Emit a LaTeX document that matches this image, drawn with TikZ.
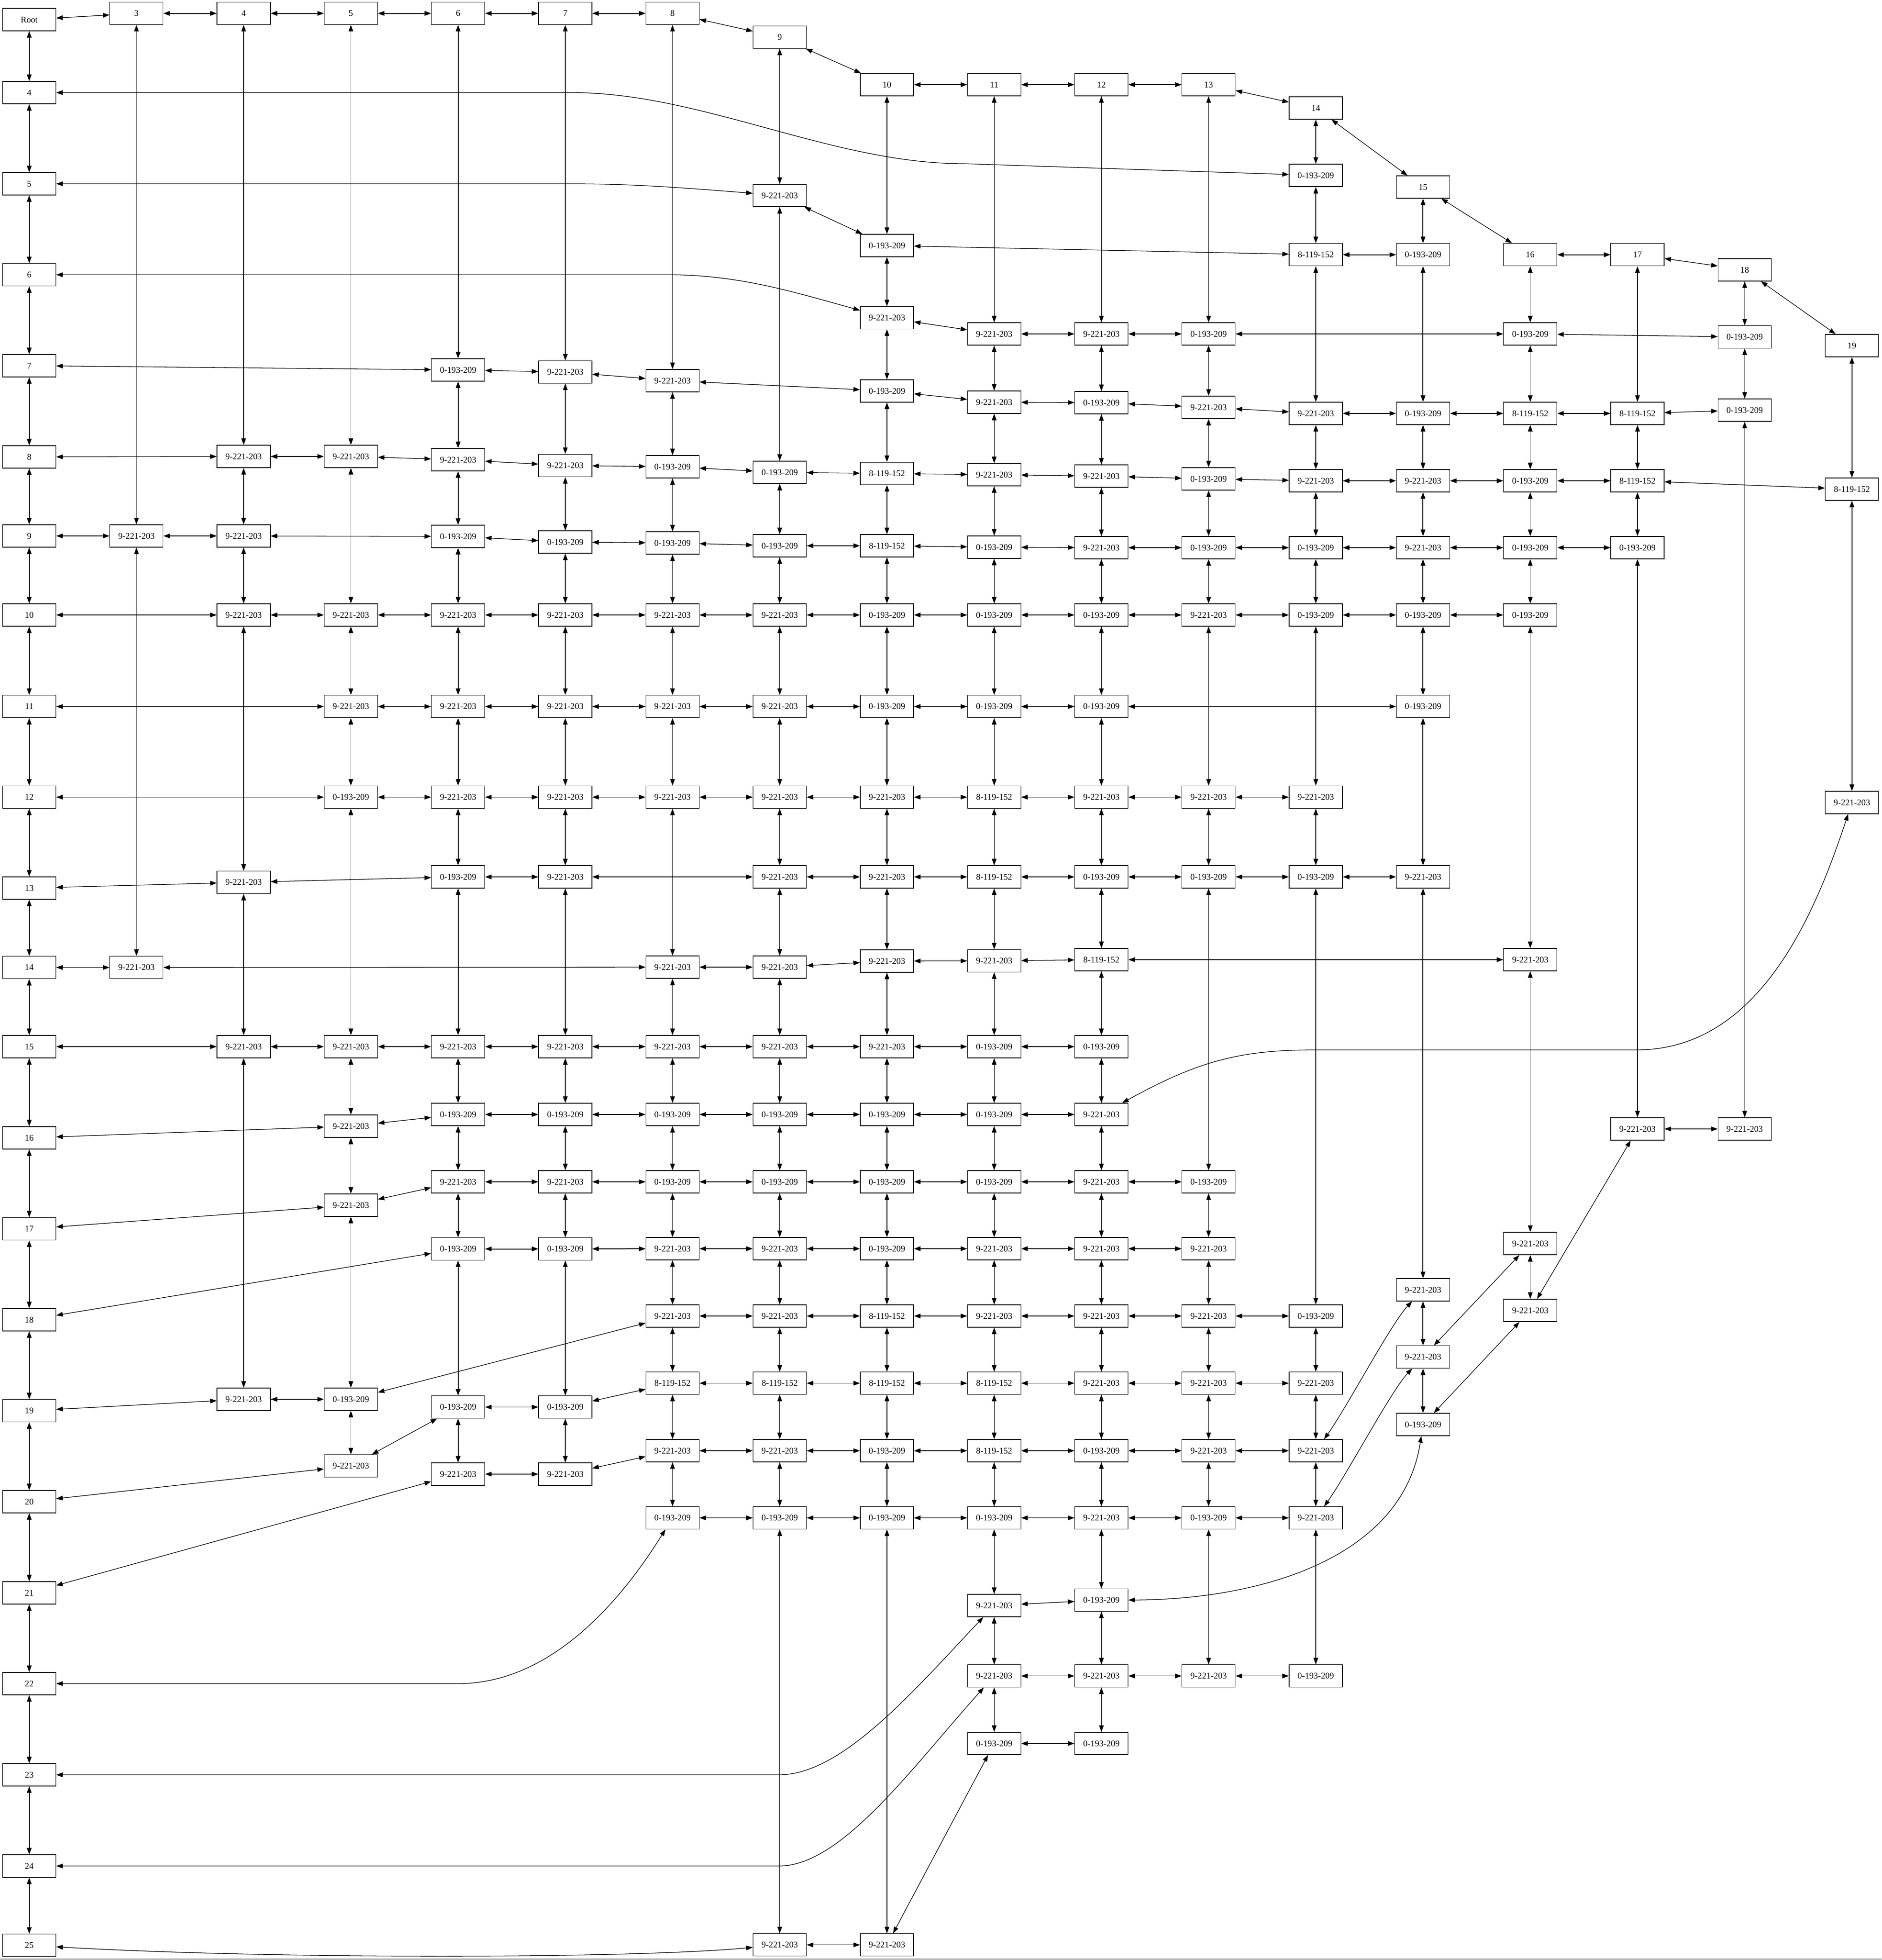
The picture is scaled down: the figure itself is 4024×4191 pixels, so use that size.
\documentclass[tikz,border=0pt]{standalone}
\usepackage{fontspec}
\setmainfont{Liberation Serif}
\usetikzlibrary{arrows.meta}

\begin{document}
\begin{tikzpicture}[x=1pt, y=-1pt,
        cell/.style={draw, line width=1.3pt, minimum width=114pt, minimum height=48pt, inner sep=0pt, font=\fontsize{18.7}{22}\selectfont},
        link/.style={{Triangle[length=14pt,width=10pt]}-{Triangle[length=14pt,width=10pt]}, line width=1.3pt},
        heavy/.style={link, line width=2pt}]
        \useasboundingbox (0,0) rectangle (4024,4191);
        \draw[gray, line width=1.5pt] (0,4189) -- (4024,4189);

        \node[cell] (root) at (62.5,42)     {Root};
        \node[cell] (L4)   at (62.5,198)    {4};
        \node[cell] (L5)   at (62.5,393)    {5};
        \node[cell] (L6)   at (62.5,587.5)  {6};
        \node[cell] (L7)   at (62.5,782)    {7};
        \node[cell] (L8)   at (62.5,977)    {8};
        \node[cell] (L9)   at (62.5,1146)   {9};
        \node[cell] (L10)  at (62.5,1315)   {10};
        \node[cell] (L11)  at (62.5,1510.7) {11};
        \node[cell] (L12)  at (62.5,1704.5) {12};
        \node[cell] (L13)  at (62.5,1899)   {13};
        \node[cell] (L14)  at (62.5,2068.7) {14};
        \node[cell] (L15)  at (62.5,2238)   {15};
        \node[cell] (L16)  at (62.5,2433)   {16};
        \node[cell] (L17)  at (62.5,2627.7) {17};
        \node[cell] (L18)  at (62.5,2822)   {18};
        \node[cell] (L19)  at (62.5,3016.6) {19};
        \node[cell] (L20)  at (62.5,3211)   {20};
        \node[cell] (L21)  at (62.5,3406)   {21};
        \node[cell] (L22)  at (62.5,3600)   {22};
        \node[cell] (L23)  at (62.5,3795)   {23};
        \node[cell] (L24)  at (62.5,3990)   {24};
        \node[cell] (L25)  at (62.5,4159.6) {25};

        \node[cell] (T3)  at (291.8,28.6)  {3};
        \node[cell] (T4)  at (521.1,28.6)  {4};
        \node[cell] (T5)  at (750.4,28.6)  {5};
        \node[cell] (T6)  at (979.7,28.6)  {6};
        \node[cell] (T7)  at (1209,28.6)   {7};
        \node[cell] (T8)  at (1438.3,28.6) {8};
        \node[cell] (T9)  at (1667.6,79.5) {9};
        \node[cell] (T10) at (1896.9,181)  {10};
        \node[cell] (T11) at (2126.2,181)  {11};
        \node[cell] (T12) at (2355.5,181)  {12};
        \node[cell] (T13) at (2584.8,181)  {13};
        \node[cell] (T14) at (2814.1,231)  {14};
        \node[cell] (T15) at (3043.4,400)  {15};
        \node[cell] (T16) at (3272.7,544.6) {16};
        \node[cell] (T17) at (3502,544.6)  {17};
        \node[cell] (T18) at (3731.3,577)  {18};
        \node[cell] (T19) at (3960.6,739)  {19};

        % column 1
        \node[cell] (n1y1146) at (291.8,1146)   {9-221-203};
        \node[cell] (n1y2069) at (291.8,2068.7) {9-221-203};
        % column 2
        \node[cell] (n2y976)  at (521.1,976)    {9-221-203};
        \node[cell] (n2y1146) at (521.1,1146)   {9-221-203};
        \node[cell] (n2y1315) at (521.1,1315)   {9-221-203};
        \node[cell] (n2y1887) at (521.1,1886.6) {9-221-203};
        \node[cell] (n2y2238) at (521.1,2238)   {9-221-203};
        \node[cell] (n2y2992) at (521.1,2992)   {9-221-203};
        % column 3
        \node[cell] (n3y976)  at (750.4,976)    {9-221-203};
        \node[cell] (n3y1315) at (750.4,1315)   {9-221-203};
        \node[cell] (n3y1511) at (750.4,1510.7) {9-221-203};
        \node[cell] (n3y1705) at (750.4,1704.5) {0-193-209};
        \node[cell] (n3y2238) at (750.4,2238)   {9-221-203};
        \node[cell] (n3y2408) at (750.4,2408)   {9-221-203};
        \node[cell] (n3y2577) at (750.4,2577)   {9-221-203};
        \node[cell] (n3y2992) at (750.4,2992)   {0-193-209};
        \node[cell] (n3y3135) at (750.4,3134.5) {9-221-203};
        % column 4
        \node[cell] (n4y791)  at (979.7,791)    {0-193-209};
        \node[cell] (n4y983)  at (979.7,983)    {9-221-203};
        \node[cell] (n4y1147) at (979.7,1147)   {0-193-209};
        \node[cell] (n4y1315) at (979.7,1315)   {9-221-203};
        \node[cell] (n4y1511) at (979.7,1510.7) {9-221-203};
        \node[cell] (n4y1705) at (979.7,1704.5) {9-221-203};
        \node[cell] (n4y1875) at (979.7,1875)   {0-193-209};
        \node[cell] (n4y2238) at (979.7,2238)   {9-221-203};
        \node[cell] (n4y2383) at (979.7,2383)   {0-193-209};
        \node[cell] (n4y2527) at (979.7,2527)   {9-221-203};
        \node[cell] (n4y2671) at (979.7,2670.5) {0-193-209};
        \node[cell] (n4y3009) at (979.7,3008.7) {0-193-209};
        \node[cell] (n4y3152) at (979.7,3152)   {9-221-203};
        % column 5
        \node[cell] (n5y796)  at (1209,795.5)  {9-221-203};
        \node[cell] (n5y996)  at (1209,995.5)  {9-221-203};
        \node[cell] (n5y1159) at (1209,1159)   {0-193-209};
        \node[cell] (n5y1315) at (1209,1315)   {9-221-203};
        \node[cell] (n5y1511) at (1209,1510.7) {9-221-203};
        \node[cell] (n5y1705) at (1209,1704.5) {9-221-203};
        \node[cell] (n5y1875) at (1209,1875)   {9-221-203};
        \node[cell] (n5y2238) at (1209,2238)   {9-221-203};
        \node[cell] (n5y2383) at (1209,2383)   {0-193-209};
        \node[cell] (n5y2527) at (1209,2527)   {9-221-203};
        \node[cell] (n5y2671) at (1209,2670.5) {0-193-209};
        \node[cell] (n5y3009) at (1209,3008.7) {0-193-209};
        \node[cell] (n5y3152) at (1209,3152)   {9-221-203};
        % column 6
        \node[cell] (n6y814)  at (1438.3,814)    {9-221-203};
        \node[cell] (n6y998)  at (1438.3,998)    {0-193-209};
        \node[cell] (n6y1161) at (1438.3,1161)   {0-193-209};
        \node[cell] (n6y1315) at (1438.3,1315)   {9-221-203};
        \node[cell] (n6y1511) at (1438.3,1510.7) {9-221-203};
        \node[cell] (n6y1705) at (1438.3,1704.5) {9-221-203};
        \node[cell] (n6y2068) at (1438.3,2068)   {9-221-203};
        \node[cell] (n6y2238) at (1438.3,2238)   {9-221-203};
        \node[cell] (n6y2383) at (1438.3,2383)   {0-193-209};
        \node[cell] (n6y2527) at (1438.3,2527)   {0-193-209};
        \node[cell] (n6y2670) at (1438.3,2670)   {9-221-203};
        \node[cell] (n6y2814) at (1438.3,2814)   {9-221-203};
        \node[cell] (n6y2958) at (1438.3,2957.6) {8-119-152};
        \node[cell] (n6y3102) at (1438.3,3102)   {9-221-203};
        \node[cell] (n6y3246) at (1438.3,3245.6) {0-193-209};
        % column 7
        \node[cell] (n7y418)  at (1667.6,418)    {9-221-203};
        \node[cell] (n7y1010) at (1667.6,1010)   {0-193-209};
        \node[cell] (n7y1167) at (1667.6,1167)   {0-193-209};
        \node[cell] (n7y1315) at (1667.6,1315)   {9-221-203};
        \node[cell] (n7y1511) at (1667.6,1510.7) {9-221-203};
        \node[cell] (n7y1705) at (1667.6,1704.5) {9-221-203};
        \node[cell] (n7y1875) at (1667.6,1875)   {9-221-203};
        \node[cell] (n7y2068) at (1667.6,2068)   {9-221-203};
        \node[cell] (n7y2238) at (1667.6,2238)   {9-221-203};
        \node[cell] (n7y2383) at (1667.6,2383)   {0-193-209};
        \node[cell] (n7y2527) at (1667.6,2527)   {0-193-209};
        \node[cell] (n7y2670) at (1667.6,2670)   {9-221-203};
        \node[cell] (n7y2814) at (1667.6,2814)   {9-221-203};
        \node[cell] (n7y2958) at (1667.6,2957.6) {8-119-152};
        \node[cell] (n7y3102) at (1667.6,3102)   {9-221-203};
        \node[cell] (n7y3246) at (1667.6,3245.6) {0-193-209};
        \node[cell] (n7y4159) at (1667.6,4158.6) {9-221-203};
        % column 8
        \node[cell] (n8y525)  at (1896.9,525)    {0-193-209};
        \node[cell] (n8y680)  at (1896.9,679.5)  {9-221-203};
        \node[cell] (n8y836)  at (1896.9,836)    {0-193-209};
        \node[cell] (n8y1013) at (1896.9,1012.5) {8-119-152};
        \node[cell] (n8y1167) at (1896.9,1167)   {8-119-152};
        \node[cell] (n8y1315) at (1896.9,1315)   {0-193-209};
        \node[cell] (n8y1511) at (1896.9,1510.7) {0-193-209};
        \node[cell] (n8y1705) at (1896.9,1704.5) {9-221-203};
        \node[cell] (n8y1875) at (1896.9,1875)   {9-221-203};
        \node[cell] (n8y2055) at (1896.9,2055)   {9-221-203};
        \node[cell] (n8y2238) at (1896.9,2238)   {9-221-203};
        \node[cell] (n8y2383) at (1896.9,2383)   {0-193-209};
        \node[cell] (n8y2527) at (1896.9,2527)   {0-193-209};
        \node[cell] (n8y2670) at (1896.9,2670)   {0-193-209};
        \node[cell] (n8y2814) at (1896.9,2814)   {8-119-152};
        \node[cell] (n8y2958) at (1896.9,2957.6) {8-119-152};
        \node[cell] (n8y3102) at (1896.9,3102)   {0-193-209};
        \node[cell] (n8y3246) at (1896.9,3245.6) {0-193-209};
        \node[cell] (n8y4159) at (1896.9,4158.6) {9-221-203};
        % column 9
        \node[cell] (n9y714)  at (2126.2,714)    {9-221-203};
        \node[cell] (n9y860)  at (2126.2,860)    {9-221-203};
        \node[cell] (n9y1015) at (2126.2,1015)   {9-221-203};
        \node[cell] (n9y1170) at (2126.2,1170)   {0-193-209};
        \node[cell] (n9y1315) at (2126.2,1315)   {0-193-209};
        \node[cell] (n9y1511) at (2126.2,1510.7) {0-193-209};
        \node[cell] (n9y1705) at (2126.2,1704.5) {8-119-152};
        \node[cell] (n9y1875) at (2126.2,1875)   {8-119-152};
        \node[cell] (n9y2055) at (2126.2,2054.5) {9-221-203};
        \node[cell] (n9y2238) at (2126.2,2238)   {0-193-209};
        \node[cell] (n9y2383) at (2126.2,2383)   {0-193-209};
        \node[cell] (n9y2527) at (2126.2,2527)   {0-193-209};
        \node[cell] (n9y2670) at (2126.2,2670)   {9-221-203};
        \node[cell] (n9y2814) at (2126.2,2814)   {9-221-203};
        \node[cell] (n9y2958) at (2126.2,2957.6) {8-119-152};
        \node[cell] (n9y3102) at (2126.2,3102)   {8-119-152};
        \node[cell] (n9y3246) at (2126.2,3245.6) {0-193-209};
        \node[cell] (n9y3433) at (2126.2,3433)   {9-221-203};
        \node[cell] (n9y3584) at (2126.2,3583.6) {9-221-203};
        \node[cell] (n9y3728) at (2126.2,3728)   {0-193-209};
        % column 10
        \node[cell] (n10y714)  at (2355.5,714)    {9-221-203};
        \node[cell] (n10y861)  at (2355.5,861)    {0-193-209};
        \node[cell] (n10y1018) at (2355.5,1018)   {9-221-203};
        \node[cell] (n10y1171) at (2355.5,1171)   {9-221-203};
        \node[cell] (n10y1315) at (2355.5,1315)   {0-193-209};
        \node[cell] (n10y1511) at (2355.5,1510.7) {0-193-209};
        \node[cell] (n10y1705) at (2355.5,1704.5) {9-221-203};
        \node[cell] (n10y1875) at (2355.5,1875)   {0-193-209};
        \node[cell] (n10y2052) at (2355.5,2052)   {8-119-152};
        \node[cell] (n10y2238) at (2355.5,2238)   {0-193-209};
        \node[cell] (n10y2383) at (2355.5,2383)   {9-221-203};
        \node[cell] (n10y2527) at (2355.5,2527)   {9-221-203};
        \node[cell] (n10y2670) at (2355.5,2670)   {9-221-203};
        \node[cell] (n10y2814) at (2355.5,2814)   {9-221-203};
        \node[cell] (n10y2958) at (2355.5,2957.6) {9-221-203};
        \node[cell] (n10y3102) at (2355.5,3102)   {0-193-209};
        \node[cell] (n10y3246) at (2355.5,3245.6) {9-221-203};
        \node[cell] (n10y3422) at (2355.5,3421.5) {0-193-209};
        \node[cell] (n10y3584) at (2355.5,3583.6) {9-221-203};
        \node[cell] (n10y3728) at (2355.5,3728)   {0-193-209};
        % column 11
        \node[cell] (n11y714)  at (2584.8,714)    {0-193-209};
        \node[cell] (n11y871)  at (2584.8,871)    {9-221-203};
        \node[cell] (n11y1024) at (2584.8,1024)   {0-193-209};
        \node[cell] (n11y1171) at (2584.8,1171)   {0-193-209};
        \node[cell] (n11y1315) at (2584.8,1315)   {9-221-203};
        \node[cell] (n11y1705) at (2584.8,1704.5) {9-221-203};
        \node[cell] (n11y1875) at (2584.8,1875)   {0-193-209};
        \node[cell] (n11y2527) at (2584.8,2527)   {0-193-209};
        \node[cell] (n11y2670) at (2584.8,2670)   {9-221-203};
        \node[cell] (n11y2814) at (2584.8,2814)   {9-221-203};
        \node[cell] (n11y2958) at (2584.8,2957.6) {9-221-203};
        \node[cell] (n11y3102) at (2584.8,3102)   {9-221-203};
        \node[cell] (n11y3246) at (2584.8,3245.6) {0-193-209};
        \node[cell] (n11y3584) at (2584.8,3583.6) {9-221-203};
        % column 12
        \node[cell] (n12y375)  at (2814.1,375)    {0-193-209};
        \node[cell] (n12y545)  at (2814.1,544.6)  {8-119-152};
        \node[cell] (n12y884)  at (2814.1,884)    {9-221-203};
        \node[cell] (n12y1028) at (2814.1,1028)   {9-221-203};
        \node[cell] (n12y1171) at (2814.1,1171)   {0-193-209};
        \node[cell] (n12y1315) at (2814.1,1315)   {0-193-209};
        \node[cell] (n12y1705) at (2814.1,1704.5) {9-221-203};
        \node[cell] (n12y1875) at (2814.1,1875)   {0-193-209};
        \node[cell] (n12y2814) at (2814.1,2814)   {0-193-209};
        \node[cell] (n12y2958) at (2814.1,2957.6) {9-221-203};
        \node[cell] (n12y3102) at (2814.1,3102)   {9-221-203};
        \node[cell] (n12y3246) at (2814.1,3245.6) {9-221-203};
        \node[cell] (n12y3584) at (2814.1,3583.6) {0-193-209};
        % column 13
        \node[cell] (n13y545)  at (3043.4,544.6)  {0-193-209};
        \node[cell] (n13y884)  at (3043.4,884)    {0-193-209};
        \node[cell] (n13y1028) at (3043.4,1028)   {9-221-203};
        \node[cell] (n13y1171) at (3043.4,1171)   {9-221-203};
        \node[cell] (n13y1315) at (3043.4,1315)   {0-193-209};
        \node[cell] (n13y1511) at (3043.4,1510.7) {0-193-209};
        \node[cell] (n13y1875) at (3043.4,1875)   {9-221-203};
        \node[cell] (n13y2758) at (3043.4,2758)   {9-221-203};
        \node[cell] (n13y2902) at (3043.4,2901.6) {9-221-203};
        \node[cell] (n13y3046) at (3043.4,3046)   {0-193-209};
        % column 14
        \node[cell] (n14y714)  at (3272.7,714)  {0-193-209};
        \node[cell] (n14y884)  at (3272.7,884)  {8-119-152};
        \node[cell] (n14y1028) at (3272.7,1028) {0-193-209};
        \node[cell] (n14y1171) at (3272.7,1171) {0-193-209};
        \node[cell] (n14y1315) at (3272.7,1315) {0-193-209};
        \node[cell] (n14y2052) at (3272.7,2052) {9-221-203};
        \node[cell] (n14y2659) at (3272.7,2659) {9-221-203};
        \node[cell] (n14y2802) at (3272.7,2802) {9-221-203};
        % columns 15 to 17
        \node[cell] (n15y884)  at (3502,884)    {8-119-152};
        \node[cell] (n15y1028) at (3502,1028)   {8-119-152};
        \node[cell] (n15y1171) at (3502,1171)   {0-193-209};
        \node[cell] (n15y2414) at (3502,2414)   {9-221-203};
        \node[cell] (n16y721)  at (3731.3,720.5) {0-193-209};
        \node[cell] (n16y877)  at (3731.3,877)   {0-193-209};
        \node[cell] (n16y2414) at (3731.3,2414)  {9-221-203};
        \node[cell] (n17y1046) at (3960.6,1046)  {8-119-152};
        \node[cell] (n17y1716) at (3960.6,1716)  {9-221-203};

        % vertical links
        \draw[heavy] (root) -- (L4);
        \draw[heavy] (L4) -- (L5);
        \draw[heavy] (L5) -- (L6);
        \draw[heavy] (L6) -- (L7);
        \draw[heavy] (L7) -- (L8);
        \draw[heavy] (L8) -- (L9);
        \draw[heavy] (L9) -- (L10);
        \draw[heavy] (L10) -- (L11);
        \draw[heavy] (L11) -- (L12);
        \draw[heavy] (L12) -- (L13);
        \draw[heavy] (L13) -- (L14);
        \draw[heavy] (L14) -- (L15);
        \draw[heavy] (L15) -- (L16);
        \draw[heavy] (L16) -- (L17);
        \draw[heavy] (L17) -- (L18);
        \draw[heavy] (L18) -- (L19);
        \draw[heavy] (L19) -- (L20);
        \draw[heavy] (L20) -- (L21);
        \draw[heavy] (L21) -- (L22);
        \draw[heavy] (L22) -- (L23);
        \draw[heavy] (L23) -- (L24);
        \draw[heavy] (L24) -- (L25);

        \draw[link] (T3) -- (n1y1146);
        \draw[link] (n1y1146) -- (n1y2069);

        \draw[link] (T4) -- (n2y976);
        \draw[link] (n2y976) -- (n2y1146);
        \draw[link] (n2y1146) -- (n2y1315);
        \draw[link] (n2y1315) -- (n2y1887);
        \draw[link] (n2y1887) -- (n2y2238);
        \draw[link] (n2y2238) -- (n2y2992);

        \draw[link] (T5) -- (n3y976);
        \draw[link] (n3y976) -- (n3y1315);
        \draw[link] (n3y1315) -- (n3y1511);
        \draw[link] (n3y1511) -- (n3y1705);
        \draw[link] (n3y1705) -- (n3y2238);
        \draw[link] (n3y2238) -- (n3y2408);
        \draw[link] (n3y2408) -- (n3y2577);
        \draw[link] (n3y2577) -- (n3y2992);
        \draw[link] (n3y2992) -- (n3y3135);

        \draw[heavy] (T6) -- (n4y791);
        \draw[heavy] (n4y791) -- (n4y983);
        \draw[heavy] (n4y983) -- (n4y1147);
        \draw[heavy] (n4y1147) -- (n4y1315);
        \draw[heavy] (n4y1315) -- (n4y1511);
        \draw[heavy] (n4y1511) -- (n4y1705);
        \draw[heavy] (n4y1705) -- (n4y1875);
        \draw[heavy] (n4y1875) -- (n4y2238);
        \draw[heavy] (n4y2238) -- (n4y2383);
        \draw[heavy] (n4y2383) -- (n4y2527);
        \draw[heavy] (n4y2527) -- (n4y2671);
        \draw[heavy] (n4y2671) -- (n4y3009);
        \draw[heavy] (n4y3009) -- (n4y3152);

        \draw[link] (T7) -- (n5y796);
        \draw[link] (n5y796) -- (n5y996);
        \draw[link] (n5y996) -- (n5y1159);
        \draw[link] (n5y1159) -- (n5y1315);
        \draw[link] (n5y1315) -- (n5y1511);
        \draw[link] (n5y1511) -- (n5y1705);
        \draw[link] (n5y1705) -- (n5y1875);
        \draw[link] (n5y1875) -- (n5y2238);
        \draw[link] (n5y2238) -- (n5y2383);
        \draw[link] (n5y2383) -- (n5y2527);
        \draw[link] (n5y2527) -- (n5y2671);
        \draw[link] (n5y2671) -- (n5y3009);
        \draw[link] (n5y3009) -- (n5y3152);

        \draw[link] (T8) -- (n6y814);
        \draw[link] (n6y814) -- (n6y998);
        \draw[link] (n6y998) -- (n6y1161);
        \draw[link] (n6y1161) -- (n6y1315);
        \draw[link] (n6y1315) -- (n6y1511);
        \draw[link] (n6y1511) -- (n6y1705);
        \draw[link] (n6y1705) -- (n6y2068);
        \draw[link] (n6y2068) -- (n6y2238);
        \draw[link] (n6y2238) -- (n6y2383);
        \draw[link] (n6y2383) -- (n6y2527);
        \draw[link] (n6y2527) -- (n6y2670);
        \draw[link] (n6y2670) -- (n6y2814);
        \draw[link] (n6y2814) -- (n6y2958);
        \draw[link] (n6y2958) -- (n6y3102);
        \draw[link] (n6y3102) -- (n6y3246);

        \draw[link] (T9) -- (n7y418);
        \draw[link] (n7y418) -- (n7y1010);
        \draw[link] (n7y1010) -- (n7y1167);
        \draw[link] (n7y1167) -- (n7y1315);
        \draw[link] (n7y1315) -- (n7y1511);
        \draw[link] (n7y1511) -- (n7y1705);
        \draw[link] (n7y1705) -- (n7y1875);
        \draw[link] (n7y1875) -- (n7y2068);
        \draw[link] (n7y2068) -- (n7y2238);
        \draw[link] (n7y2238) -- (n7y2383);
        \draw[link] (n7y2383) -- (n7y2527);
        \draw[link] (n7y2527) -- (n7y2670);
        \draw[link] (n7y2670) -- (n7y2814);
        \draw[link] (n7y2814) -- (n7y2958);
        \draw[link] (n7y2958) -- (n7y3102);
        \draw[link] (n7y3102) -- (n7y3246);
        \draw[link] (n7y3246) -- (n7y4159);

        \draw[link] (T10) -- (n8y525);
        \draw[link] (n8y525) -- (n8y680);
        \draw[link] (n8y680) -- (n8y836);
        \draw[link] (n8y836) -- (n8y1013);
        \draw[link] (n8y1013) -- (n8y1167);
        \draw[link] (n8y1167) -- (n8y1315);
        \draw[link] (n8y1315) -- (n8y1511);
        \draw[link] (n8y1511) -- (n8y1705);
        \draw[link] (n8y1705) -- (n8y1875);
        \draw[link] (n8y1875) -- (n8y2055);
        \draw[link] (n8y2055) -- (n8y2238);
        \draw[link] (n8y2238) -- (n8y2383);
        \draw[link] (n8y2383) -- (n8y2527);
        \draw[link] (n8y2527) -- (n8y2670);
        \draw[link] (n8y2670) -- (n8y2814);
        \draw[link] (n8y2814) -- (n8y2958);
        \draw[link] (n8y2958) -- (n8y3102);
        \draw[link] (n8y3102) -- (n8y3246);
        \draw[link] (n8y3246) -- (n8y4159);

        \draw[link] (T11) -- (n9y714);
        \draw[link] (n9y714) -- (n9y860);
        \draw[link] (n9y860) -- (n9y1015);
        \draw[link] (n9y1015) -- (n9y1170);
        \draw[link] (n9y1170) -- (n9y1315);
        \draw[link] (n9y1315) -- (n9y1511);
        \draw[link] (n9y1511) -- (n9y1705);
        \draw[link] (n9y1705) -- (n9y1875);
        \draw[link] (n9y1875) -- (n9y2055);
        \draw[link] (n9y2055) -- (n9y2238);
        \draw[link] (n9y2238) -- (n9y2383);
        \draw[link] (n9y2383) -- (n9y2527);
        \draw[link] (n9y2527) -- (n9y2670);
        \draw[link] (n9y2670) -- (n9y2814);
        \draw[link] (n9y2814) -- (n9y2958);
        \draw[link] (n9y2958) -- (n9y3102);
        \draw[link] (n9y3102) -- (n9y3246);
        \draw[link] (n9y3246) -- (n9y3433);
        \draw[link] (n9y3433) -- (n9y3584);
        \draw[link] (n9y3584) -- (n9y3728);

        \draw[link] (T12) -- (n10y714);
        \draw[link] (n10y714) -- (n10y861);
        \draw[link] (n10y861) -- (n10y1018);
        \draw[link] (n10y1018) -- (n10y1171);
        \draw[link] (n10y1171) -- (n10y1315);
        \draw[link] (n10y1315) -- (n10y1511);
        \draw[link] (n10y1511) -- (n10y1705);
        \draw[link] (n10y1705) -- (n10y1875);
        \draw[link] (n10y1875) -- (n10y2052);
        \draw[link] (n10y2052) -- (n10y2238);
        \draw[link] (n10y2238) -- (n10y2383);
        \draw[link] (n10y2383) -- (n10y2527);
        \draw[link] (n10y2527) -- (n10y2670);
        \draw[link] (n10y2670) -- (n10y2814);
        \draw[link] (n10y2814) -- (n10y2958);
        \draw[link] (n10y2958) -- (n10y3102);
        \draw[link] (n10y3102) -- (n10y3246);
        \draw[link] (n10y3246) -- (n10y3422);
        \draw[link] (n10y3422) -- (n10y3584);
        \draw[link] (n10y3584) -- (n10y3728);

        \draw[link] (T13) -- (n11y714);
        \draw[link] (n11y714) -- (n11y871);
        \draw[link] (n11y871) -- (n11y1024);
        \draw[link] (n11y1024) -- (n11y1171);
        \draw[link] (n11y1171) -- (n11y1315);
        \draw[link] (n11y1315) -- (n11y1705);
        \draw[link] (n11y1705) -- (n11y1875);
        \draw[link] (n11y1875) -- (n11y2527);
        \draw[link] (n11y2527) -- (n11y2670);
        \draw[link] (n11y2670) -- (n11y2814);
        \draw[link] (n11y2814) -- (n11y2958);
        \draw[link] (n11y2958) -- (n11y3102);
        \draw[link] (n11y3102) -- (n11y3246);
        \draw[link] (n11y3246) -- (n11y3584);

        \draw[link] (T14) -- (n12y375);
        \draw[link] (n12y375) -- (n12y545);
        \draw[link] (n12y545) -- (n12y884);
        \draw[link] (n12y884) -- (n12y1028);
        \draw[link] (n12y1028) -- (n12y1171);
        \draw[link] (n12y1171) -- (n12y1315);
        \draw[link] (n12y1315) -- (n12y1705);
        \draw[link] (n12y1705) -- (n12y1875);
        \draw[link] (n12y1875) -- (n12y2814);
        \draw[link] (n12y2814) -- (n12y2958);
        \draw[link] (n12y2958) -- (n12y3102);
        \draw[link] (n12y3102) -- (n12y3246);
        \draw[link] (n12y3246) -- (n12y3584);

        \draw[heavy] (T15) -- (n13y545);
        \draw[heavy] (n13y545) -- (n13y884);
        \draw[heavy] (n13y884) -- (n13y1028);
        \draw[heavy] (n13y1028) -- (n13y1171);
        \draw[heavy] (n13y1171) -- (n13y1315);
        \draw[heavy] (n13y1315) -- (n13y1511);
        \draw[heavy] (n13y1511) -- (n13y1875);
        \draw[heavy] (n13y1875) -- (n13y2758);
        \draw[heavy] (n13y2758) -- (n13y2902);
        \draw[heavy] (n13y2902) -- (n13y3046);

        \draw[link] (T16) -- (n14y714);
        \draw[link] (n14y714) -- (n14y884);
        \draw[link] (n14y884) -- (n14y1028);
        \draw[link] (n14y1028) -- (n14y1171);
        \draw[link] (n14y1171) -- (n14y1315);
        \draw[link] (n14y1315) -- (n14y2052);
        \draw[link] (n14y2052) -- (n14y2659);
        \draw[link] (n14y2659) -- (n14y2802);

        \draw[link] (T17) -- (n15y884);
        \draw[link] (n15y884) -- (n15y1028);
        \draw[link] (n15y1028) -- (n15y1171);
        \draw[link] (n15y1171) -- (n15y2414);
        \draw[link] (T18) -- (n16y721);
        \draw[link] (n16y721) -- (n16y877);
        \draw[link] (n16y877) -- (n16y2414);
        \draw[heavy] (T19) -- (n17y1046);
        \draw[heavy] (n17y1046) -- (n17y1716);

        % top row
        \draw[link] (root) -- (T3);
        \draw[heavy] (T3) -- (T4);
        \draw[heavy] (T4) -- (T5);
        \draw[heavy] (T5) -- (T6);
        \draw[heavy] (T6) -- (T7);
        \draw[heavy] (T7) -- (T8);
        \draw[link] (T8) -- (T9);
        \draw[link] (T9) -- (T10);
        \draw[link] (T10) -- (T11);
        \draw[link] (T11) -- (T12);
        \draw[link] (T12) -- (T13);
        \draw[link] (T13) -- (T14);
        \draw[link] (T14) -- (T15);
        \draw[link] (T15) -- (T16);
        \draw[heavy] (T16) -- (T17);
        \draw[link] (T17) -- (T18);
        \draw[link] (T18) -- (T19);

        % horizontal links
        \draw[link] (L4) -- (1223,198) .. controls (1500,198) and (1780,350) .. (2060,350) -- (n12y375);
        \draw[link] (L5) -- (1220,393) .. controls (1330,393) and (1420,398) .. (n7y418);
        \draw[link] (L6) -- (1430,587.5) .. controls (1580,587.5) and (1700,625) .. (n8y680);
        \draw[link] (n7y418) -- (n8y525);
        \draw[link] (n8y525) -- (n12y545);
        \draw[heavy] (n12y545) -- (n13y545);

        \draw[link] (n8y680) -- (n9y714);
        \draw[link] (n9y714) -- (n10y714);
        \draw[link] (n10y714) -- (n11y714);
        \draw[link] (n11y714) -- (n14y714);
        \draw[link] (n14y714) -- (n16y721);

        \draw[link] (L7) -- (n4y791);
        \draw[link] (n4y791) -- (n5y796);
        \draw[link] (n5y796) -- (n6y814);
        \draw[link] (n6y814) -- (n8y836);
        \draw[link] (n8y836) -- (n9y860);
        \draw[link] (n9y860) -- (n10y861);
        \draw[link] (n10y861) -- (n11y871);
        \draw[link] (n11y871) -- (n12y884);
        \draw[link] (n12y884) -- (n13y884);
        \draw[link] (n13y884) -- (n14y884);
        \draw[link] (n14y884) -- (n15y884);
        \draw[link] (n15y884) -- (n16y877);

        \draw[link] (L8) -- (n2y976);
        \draw[link] (n2y976) -- (n3y976);
        \draw[link] (n3y976) -- (n4y983);
        \draw[link] (n4y983) -- (n5y996);
        \draw[link] (n5y996) -- (n6y998);
        \draw[link] (n6y998) -- (n7y1010);
        \draw[link] (n7y1010) -- (n8y1013);
        \draw[link] (n8y1013) -- (n9y1015);
        \draw[link] (n9y1015) -- (n10y1018);
        \draw[link] (n10y1018) -- (n11y1024);
        \draw[link] (n11y1024) -- (n12y1028);
        \draw[link] (n12y1028) -- (n13y1028);
        \draw[link] (n13y1028) -- (n14y1028);
        \draw[link] (n14y1028) -- (n15y1028);
        \draw[link] (n15y1028) -- (n17y1046);

        \draw[link] (L9) -- (n1y1146);
        \draw[link] (n1y1146) -- (n2y1146);
        \draw[link] (n2y1146) -- (n4y1147);
        \draw[link] (n4y1147) -- (n5y1159);
        \draw[link] (n5y1159) -- (n6y1161);
        \draw[link] (n6y1161) -- (n7y1167);
        \draw[link] (n7y1167) -- (n8y1167);
        \draw[link] (n8y1167) -- (n9y1170);
        \draw[link] (n9y1170) -- (n10y1171);
        \draw[link] (n10y1171) -- (n11y1171);
        \draw[link] (n11y1171) -- (n12y1171);
        \draw[link] (n12y1171) -- (n13y1171);
        \draw[link] (n13y1171) -- (n14y1171);
        \draw[link] (n14y1171) -- (n15y1171);

        \draw[link] (L10) -- (n2y1315);
        \draw[link] (n2y1315) -- (n3y1315);
        \draw[link] (n3y1315) -- (n4y1315);
        \draw[link] (n4y1315) -- (n5y1315);
        \draw[link] (n5y1315) -- (n6y1315);
        \draw[link] (n6y1315) -- (n7y1315);
        \draw[link] (n7y1315) -- (n8y1315);
        \draw[link] (n8y1315) -- (n9y1315);
        \draw[link] (n9y1315) -- (n10y1315);
        \draw[link] (n10y1315) -- (n11y1315);
        \draw[link] (n11y1315) -- (n12y1315);
        \draw[link] (n12y1315) -- (n13y1315);
        \draw[link] (n13y1315) -- (n14y1315);

        \draw[link] (L11) -- (n3y1511);
        \draw[link] (n3y1511) -- (n4y1511);
        \draw[link] (n4y1511) -- (n5y1511);
        \draw[link] (n5y1511) -- (n6y1511);
        \draw[link] (n6y1511) -- (n7y1511);
        \draw[link] (n7y1511) -- (n8y1511);
        \draw[link] (n8y1511) -- (n9y1511);
        \draw[link] (n9y1511) -- (n10y1511);
        \draw[link] (n10y1511) -- (n13y1511);

        \draw[link] (L12) -- (n3y1705);
        \draw[link] (n3y1705) -- (n4y1705);
        \draw[link] (n4y1705) -- (n5y1705);
        \draw[link] (n5y1705) -- (n6y1705);
        \draw[link] (n6y1705) -- (n7y1705);
        \draw[link] (n7y1705) -- (n8y1705);
        \draw[link] (n8y1705) -- (n9y1705);
        \draw[link] (n9y1705) -- (n10y1705);
        \draw[link] (n10y1705) -- (n11y1705);
        \draw[link] (n11y1705) -- (n12y1705);

        \draw[link] (L13) -- (n2y1887);
        \draw[link] (n2y1887) -- (n4y1875);
        \draw[link] (n4y1875) -- (n5y1875);
        \draw[link] (n5y1875) -- (n7y1875);
        \draw[link] (n7y1875) -- (n8y1875);
        \draw[link] (n8y1875) -- (n9y1875);
        \draw[link] (n9y1875) -- (n10y1875);
        \draw[link] (n10y1875) -- (n11y1875);
        \draw[link] (n11y1875) -- (n12y1875);
        \draw[link] (n12y1875) -- (n13y1875);

        \draw[link] (L14) -- (n1y2069);
        \draw[link] (n1y2069) -- (n6y2068);
        \draw[link] (n6y2068) -- (n7y2068);
        \draw[link] (n7y2068) -- (n8y2055);
        \draw[link] (n8y2055) -- (n9y2055);
        \draw[link] (n9y2055) -- (n10y2052);
        \draw[link] (n10y2052) -- (n14y2052);

        \draw[link] (L15) -- (n2y2238);
        \draw[link] (n2y2238) -- (n3y2238);
        \draw[link] (n3y2238) -- (n4y2238);
        \draw[link] (n4y2238) -- (n5y2238);
        \draw[link] (n5y2238) -- (n6y2238);
        \draw[link] (n6y2238) -- (n7y2238);
        \draw[link] (n7y2238) -- (n8y2238);
        \draw[link] (n8y2238) -- (n9y2238);
        \draw[link] (n9y2238) -- (n10y2238);

        \draw[link] (L16) -- (n3y2408);
        \draw[link] (n3y2408) -- (n4y2383);
        \draw[link] (n4y2383) -- (n5y2383);
        \draw[link] (n5y2383) -- (n6y2383);
        \draw[link] (n6y2383) -- (n7y2383);
        \draw[link] (n7y2383) -- (n8y2383);
        \draw[link] (n8y2383) -- (n9y2383);
        \draw[link] (n9y2383) -- (n10y2383);
        \draw[link] (n10y2383) .. controls (2560,2270) and (2650,2245) .. (2810,2245) -- (3500,2245) .. controls (3760,2245) and (3880,1960) .. (n17y1716);

        \draw[link] (L17) -- (n3y2577);
        \draw[link] (n3y2577) -- (n4y2527);
        \draw[link] (n4y2527) -- (n5y2527);
        \draw[link] (n5y2527) -- (n6y2527);
        \draw[link] (n6y2527) -- (n7y2527);
        \draw[link] (n7y2527) -- (n8y2527);
        \draw[link] (n8y2527) -- (n9y2527);
        \draw[link] (n9y2527) -- (n10y2527);
        \draw[link] (n10y2527) -- (n11y2527);

        \draw[link] (L18) -- (n4y2671);
        \draw[heavy] (n4y2671) -- (n5y2671);
        \draw[heavy] (n5y2671) -- (n6y2670);
        \draw[heavy] (n6y2670) -- (n7y2670);
        \draw[heavy] (n7y2670) -- (n8y2670);
        \draw[heavy] (n8y2670) -- (n9y2670);
        \draw[heavy] (n9y2670) -- (n10y2670);
        \draw[heavy] (n10y2670) -- (n11y2670);

        \draw[link] (L19) -- (n2y2992);
        \draw[link] (n2y2992) -- (n3y2992);
        \draw[link] (n3y2992) -- (n6y2814);
        \draw[link] (n6y2814) -- (n7y2814);
        \draw[link] (n7y2814) -- (n8y2814);
        \draw[link] (n8y2814) -- (n9y2814);
        \draw[link] (n9y2814) -- (n10y2814);
        \draw[link] (n10y2814) -- (n11y2814);
        \draw[link] (n11y2814) -- (n12y2814);

        \draw[link] (L20) -- (n3y3135);
        \draw[link] (n3y3135) -- (n4y3009);
        \draw[link] (n4y3009) -- (n5y3009);
        \draw[link] (n5y3009) -- (n6y2958);
        \draw[link] (n6y2958) -- (n7y2958);
        \draw[link] (n7y2958) -- (n8y2958);
        \draw[link] (n8y2958) -- (n9y2958);
        \draw[link] (n9y2958) -- (n10y2958);
        \draw[link] (n10y2958) -- (n11y2958);
        \draw[link] (n11y2958) -- (n12y2958);

        \draw[link] (L21) -- (n4y3152);
        \draw[link] (n4y3152) -- (n5y3152);
        \draw[link] (n5y3152) -- (n6y3102);
        \draw[link] (n6y3102) -- (n7y3102);
        \draw[link] (n7y3102) -- (n8y3102);
        \draw[link] (n8y3102) -- (n9y3102);
        \draw[link] (n9y3102) -- (n10y3102);
        \draw[link] (n10y3102) -- (n11y3102);
        \draw[link] (n11y3102) -- (n12y3102);

        \draw[link] (L22) -- (980,3600) .. controls (1180,3600) and (1330,3420) .. (n6y3246);
        \draw[link] (n6y3246) -- (n7y3246);
        \draw[link] (n7y3246) -- (n8y3246);
        \draw[link] (n8y3246) -- (n9y3246);
        \draw[link] (n9y3246) -- (n10y3246);
        \draw[link] (n10y3246) -- (n11y3246);
        \draw[link] (n11y3246) -- (n12y3246);

        \draw[link] (n12y3102) .. controls (2880,3010) and (2975,2830) .. (n13y2758);
        \draw[link] (n12y3246) .. controls (2880,3154) and (2975,2974) .. (n13y2902);
        \draw[link] (n13y2902) -- (n14y2659);
        \draw[link] (n13y3046) -- (n14y2802);
        \draw[link] (n14y2802) -- (n15y2414);
        \draw[link] (n15y2414) -- (n16y2414);

        \draw[link] (L23) -- (1666,3795) .. controls (1800,3795) and (1950,3620) .. (n9y3433);
        \draw[link] (n9y3433) -- (n10y3422);
        \draw[link] (n10y3422) .. controls (2700,3420) and (3000,3330) .. (n13y3046);

        \draw[link] (L24) -- (1666,3990) .. controls (1800,3990) and (1950,3780) .. (n9y3584);
        \draw[link] (n9y3584) -- (n10y3584);
        \draw[link] (n10y3584) -- (n11y3584);
        \draw[link] (n11y3584) -- (n12y3584);
        \draw[link] (n9y3728) -- (n10y3728);

        \draw[link] (L25) .. controls (600,4190) and (1350,4188) .. (n7y4159);
        \draw[link] (n7y4159) -- (n8y4159);
        \draw[link] (n8y4159) -- (n9y3728);
      \end{tikzpicture}
\end{document}
